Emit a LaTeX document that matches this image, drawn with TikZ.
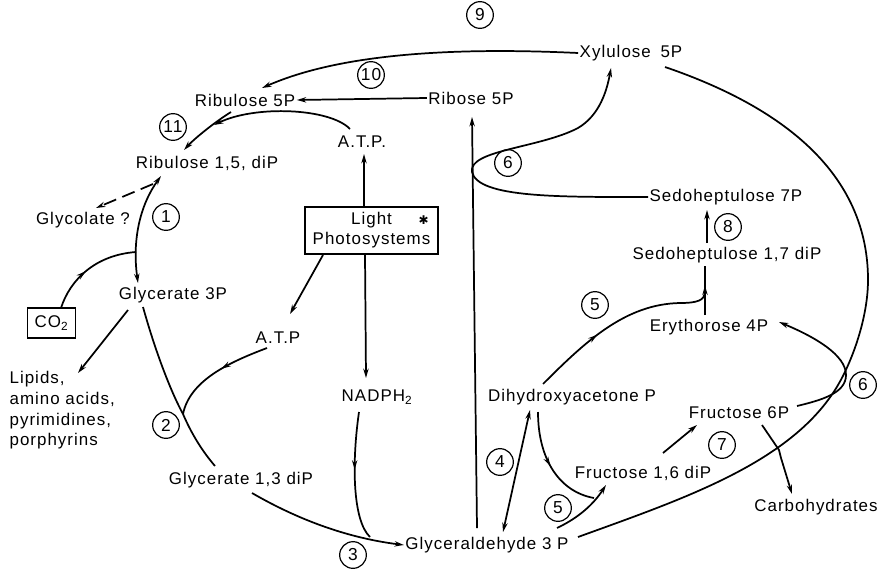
\documentclass[tikz,border=0pt]{standalone}
\usepackage{fontspec}
\setmainfont[LetterSpace=6]{Liberation Sans}
\newfontfamily\symfont{DejaVu Sans}
\usetikzlibrary{arrows.meta,decorations.markings,calc}
\tikzset{
  lbl/.style={font=\fontsize{12.7}{14}\selectfont, inner sep=1pt},
  num/.style={circle, draw, line width=0.9pt, minimum size=20pt, inner sep=0pt, font=\fontsize{13}{14}\selectfont},
  ln/.style={line width=1.3pt},
  tip/.tip={Stealth[length=7pt,width=4pt]},
  arr/.style={ln, -tip},
  darr/.style={ln, tip-tip},
  midarr/.style={postaction={decorate}, decoration={markings, mark=at position #1 with {\arrow{tip}}}},
  boxed/.style={draw, line width=1.1pt, inner sep=2pt}
}
\begin{document}
\begin{tikzpicture}[x=0.75pt,y=-0.75pt]
\useasboundingbox (0,0) rectangle (884,571);
% ---------- text nodes
\node[lbl] (xyl) at (631,53) {Xylulose\hspace{3pt} 5P};
\node[lbl] (ru5) at (245,100) {Ribulose 5P};
\node[lbl] (rib) at (471,98) {Ribose 5P};
\node[lbl] (atp1) at (362,142) {A.T.P.};
\node[lbl] (rubp) at (207,163) {Ribulose 1,5, diP};
\node[lbl] (sed7) at (726,197) {Sedoheptulose 7P};
\node[lbl] (sed17) at (727,255) {Sedoheptulose 1,7 diP};
\node[lbl] (glyc) at (83,220) {Glycolate ?};
\node[boxed, minimum width=99.75pt, minimum height=35.25pt, align=center, font=\fontsize{12.7}{15}\selectfont] (light) at (371.5,230.5) {Light\rlap{\hspace{20pt}\symfont\fontsize{9}{9}\selectfont ✱}\\Photosystems};
\node[boxed, font=\fontsize{12.7}{14}\selectfont, minimum width=36pt, minimum height=22.5pt, inner sep=1pt] (co2) at (51.5,323) {CO\textsubscript{2}};
\node[lbl] (g3p) at (173,295) {Glycerate 3P};
\node[lbl] (atp2) at (278,338) {A.T.P};
\node[lbl, align=left, anchor=north west, font=\fontsize{12.7}{15.5}\selectfont] (lip) at (8,370) {Lipids,\\amino acids,\\pyrimidines,\\porphyrins};
\node[lbl] (nadph) at (377,397) {NADPH\textsubscript{2}};
\node[lbl] (g13) at (241,480) {Glycerate 1,3 diP};
\node[lbl] (gap) at (487,545) {Glyceraldehyde 3 P};
\node[lbl] (dhap) at (572,397) {Dihydroxyacetone P};
\node[lbl] (e4p) at (709,327) {Erythorose 4P};
\node[lbl] (f6p) at (739,413) {Fructose 6P};
\node[lbl] (f16) at (643,473) {Fructose 1,6 diP};
\node[lbl] (carb) at (816,507) {Carbohydrates};
% ---------- numbered circles
\node[num] (c9) at (480,15) {9};
\node[num] (c10) at (371,75) {10};
\node[num] (c11) at (173,127) {11};
\node[num] (c6a) at (508,163) {6};
\node[num] (c8) at (728,227) {8};
\node[num] (c1) at (166,217) {1};
\node[num] (c5a) at (595,305) {5};
\node[num] (c6b) at (863,385) {6};
\node[num] (c2) at (166,425) {2};
\node[num] (c7) at (722,445) {7};
\node[num] (c4) at (500,462) {4};
\node[num] (c5b) at (558,508) {5};
\node[num] (c3) at (353,555) {3};
% ---------- connection points
\coordinate (ru5in) at (262,88);
\coordinate (ru5o) at (231,112);
\coordinate (rubpi) at (184,150);
\coordinate (j11) at (214,125);
\coordinate (atp1o) at (350,129);
\coordinate (ltop) at (364,207);
\coordinate (atp1b) at (364,154);
\coordinate (lbl1) at (323,255);
\coordinate (atp2t) at (290,314);
\coordinate (lbot) at (365,255);
\coordinate (nadt) at (366,378);
\coordinate (rubpb) at (161,176);
\coordinate (g3pt) at (138,283);
\coordinate (jco2) at (136,252);
\coordinate (co2t) at (61,308);
\coordinate (rubpd) at (153,184);
\coordinate (glyct) at (96,208);
\coordinate (g3pl) at (128,310);
\coordinate (lipt) at (78,373);
\coordinate (g3pb) at (143,307);
\coordinate (j2) at (183,414);
\coordinate (g13t) at (215,466);
\coordinate (atp2o) at (267,348);
\coordinate (nadb) at (359,412);
\coordinate (j3) at (370,537);
\coordinate (g13o) at (252,493);
\coordinate (gapt) at (477,528);
\coordinate (ribb) at (472,117);
\coordinate (xylb) at (611,68);
\coordinate (s17t) at (707,243);
\coordinate (s7b) at (707,210);
\coordinate (e4pt) at (705,315);
\coordinate (s17b) at (705,266);
\coordinate (dhapt) at (543,384);
\coordinate (je4) at (705,293);
\coordinate (gapr) at (503,532);
\coordinate (dhapb) at (530,410);
\coordinate (dhapb2) at (538,412);
\coordinate (jf16) at (594,498);
\coordinate (gapr2) at (557,528);
\coordinate (f16t) at (606,485);
\coordinate (f16r) at (663,453);
\coordinate (f6pb) at (697,425);
\coordinate (gape) at (578,537);
\coordinate (xylse) at (665,67);
\coordinate (f6pe) at (797,406);
\coordinate (e4pe) at (779,322);
\coordinate (f6pd) at (762,425);
\coordinate (carbt) at (792,494);
% ---------- connectors
\draw[arr] (xyl.west) .. controls (430,46) and (330,58) .. (ru5in);
\draw[arr] (rib.west) -- (ru5.east);
\draw[arr] (ru5o) .. controls (215,122) and (195,138) .. (rubpi);
\draw[arr] (atp1o) .. controls (330,108) and (255,105) .. (j11);
\draw[arr] (ltop) -- (atp1b);
\draw[arr] (lbl1) -- (atp2t);
\draw[arr] (lbot) -- (nadt);
\draw[darr] (rubpb) .. controls (140,205) and (132,240) .. (g3pt);
\draw[ln, midarr=0.45] (co2t) .. controls (70,280) and (95,255) .. (jco2);
\draw[arr, dash pattern=on 10pt off 5pt] (rubpd) -- (glyct);
\draw[arr] (g3pl) -- (lipt);
\draw[ln] (g3pb) .. controls (155,350) and (170,390) .. (j2) .. controls (192,435) and (203,452) .. (g13t);
\draw[ln, midarr=0.45] (atp2o) .. controls (230,362) and (190,380) .. (j2);
\draw[ln, midarr=0.45] (nadb) .. controls (352,460) and (352,520) .. (j3);
\draw[arr] (g13o) .. controls (290,515) and (340,537) .. (gap.west);
\draw[arr] (gapt) -- (ribb);
\draw[arr] (sed7.west) .. controls (560,197) and (478,198) .. (472,172) .. controls (468,150) and (540,148) .. (578,128) .. controls (600,115) and (607,90) .. (xylb);
\draw[arr] (s17t) -- (s7b);
\draw[ln, midarr=0.6] (e4pt) -- (s17b);
\draw[ln, midarr=0.38] (dhapt) .. controls (585,342) and (625,304) .. (680,303) .. controls (698,303) and (704,300) .. (je4);
\draw[darr] (gapr) -- (dhapb);
\draw[ln, midarr=0.5] (dhapb2) .. controls (538,460) and (560,492) .. (jf16);
\draw[arr] (gapr2) .. controls (578,518) and (593,505) .. (f16t);
\draw[arr] (f16r) -- (f6pb);
\draw[ln] (gape) .. controls (680,500) and (785,465) .. (833,393) .. controls (850,368) and (868,320) .. (868,280) .. controls (868,200) and (820,120) .. (xylse);
\draw[arr] (f6pe) .. controls (822,400) and (846,393) .. (846,375) .. controls (846,355) and (815,337) .. (e4pe);
\draw[arr] (f6pd) -- (779,450) -- (781,458) -- (carbt);
\end{tikzpicture}
\end{document}
